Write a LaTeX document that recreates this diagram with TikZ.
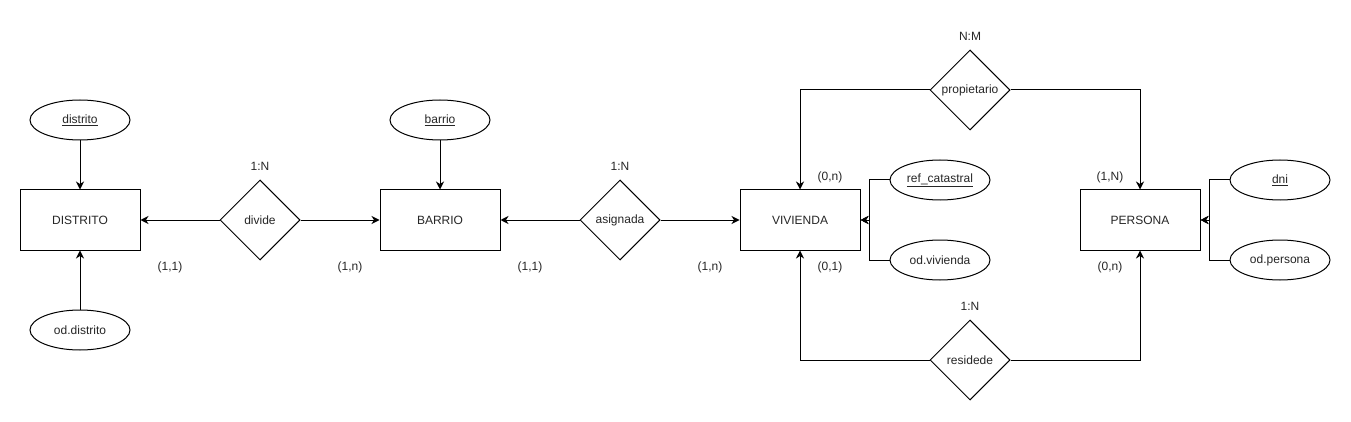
\documentclass[tikz,border=0pt]{standalone}
\usepackage{fontspec}
\setmainfont{Liberation Sans}
\usetikzlibrary{shapes.geometric,arrows.meta}
\begin{document}
\begin{tikzpicture}[x=1pt,y=-1pt,
  every node/.style={font=\fontsize{12}{14}\selectfont, text=black!85},
  ent/.style={draw, line width=1pt, minimum width=120pt, minimum height=60pt, inner sep=0pt},
  attr/.style={draw, ellipse, line width=1pt, minimum width=100pt, minimum height=40pt, inner sep=0pt},
  rel/.style={draw, diamond, aspect=1, line width=1pt, minimum width=80pt, minimum height=80pt, inner sep=0pt},
  lbl/.style={inner sep=0pt},
  arr/.style={line width=1pt, -{Stealth[length=8pt,width=8pt,inset=2.5pt]}}]
\useasboundingbox[fill=white] (0,0) rectangle (1351,422);

% entities
\node[ent] (dis) at (80,220) {DISTRITO};
\node[ent] (bar) at (440,220) {BARRIO};
\node[ent] (viv) at (800,220) {VIVIENDA};
\node[ent] (per) at (1140,220) {PERSONA};

% attributes
\node[attr] (adis) at (80,120) {\underline{distrito}};
\node[attr] (aoddis) at (80,330) {od.distrito};
\node[attr] (abar) at (440,120) {\underline{barrio}};
\node[attr] (aref) at (940,180) {\underline{ref\_catastral}};
\node[attr] (aodviv) at (940,260) {od.vivienda};
\node[attr] (adni) at (1280,180) {\underline{dni}};
\node[attr] (aodper) at (1280,260) {od.persona};

% relationships
\node[rel] (div) at (260,220) {divide};
\node[rel] (asi) at (620,220) {asignada};
\node[rel] (pro) at (970,90) {propietario};
\node[rel] (res) at (970,360) {residede};

% relationship labels
\node[lbl] (tdiv) at (260,166) {1:N};
\node[lbl] (tasi) at (620,166) {1:N};
\node[lbl] (tpro) at (970,36) {N:M};
\node[lbl] (tres) at (970,306) {1:N};

% cardinalities
\node[lbl] (c1) at (170,267) {(1,1)};
\node[lbl] (c2) at (350,267) {(1,n)};
\node[lbl] (c3) at (530,267) {(1,1)};
\node[lbl] (c4) at (710,267) {(1,n)};
\node[lbl] (c5) at (830,177) {(0,n)};
\node[lbl] (c6) at (830,267) {(0,1)};
\node[lbl] (c7) at (1110,177) {(1,N)};
\node[lbl] (c8) at (1110,267) {(0,n)};

% connectors
\draw[arr] (adis) -- (dis);
\draw[arr] (aoddis) -- (dis);
\draw[arr] (abar) -- (bar);
\draw[arr] (div.west) -- (dis.east);
\draw[arr] (div.east) -- (bar.west);
\draw[arr] (asi.west) -- (bar.east);
\draw[arr] (asi.east) -- (viv.west);
\draw[arr] (pro.west) -| (viv.north);
\draw[arr] (pro.east) -| (per.north);
\draw[arr] (res.west) -| (viv.south);
\draw[arr] (res.east) -| (per.south);
\draw[arr] (aref.west) -- ++(-20,0) |- (viv.east);
\draw[arr] (aodviv.west) -- ++(-20,0) |- (viv.east);
\draw[arr] (adni.west) -- ++(-20,0) |- (per.east);
\draw[arr] (aodper.west) -- ++(-20,0) |- (per.east);
\end{tikzpicture}
\end{document}
